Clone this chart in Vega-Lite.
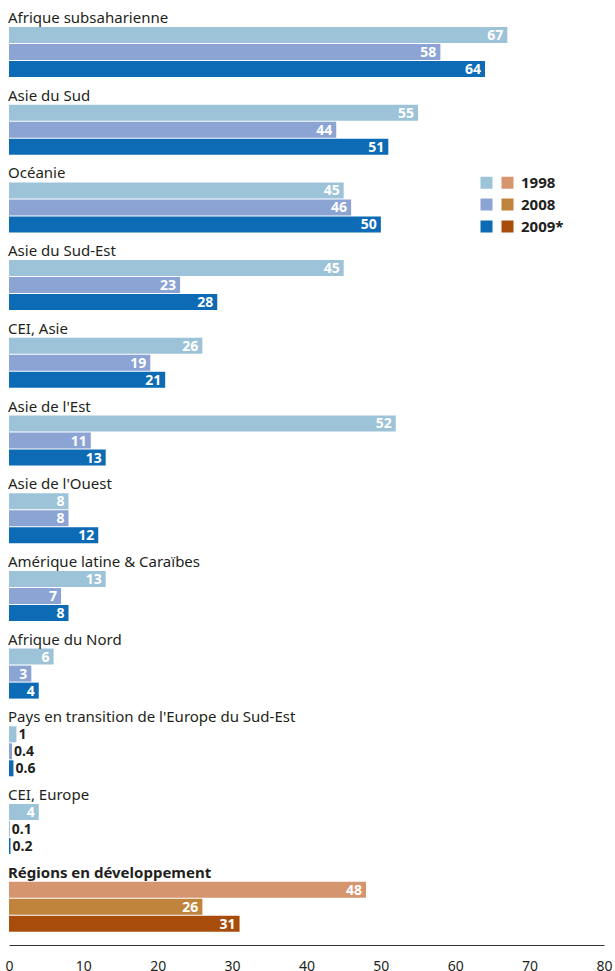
{
  "$schema": "https://vega.github.io/schema/vega-lite/v6.json",
  "padding": {"top": 10, "left": 4, "right": 0, "bottom": 0},
  "bounds": "flush",
  "data": {
    "values": [
      {"region": "Afrique subsaharienne", "year": "1998", "value": 67, "series": "R 1998"},
      {"region": "Afrique subsaharienne", "year": "2008", "value": 58, "series": "R 2008"},
      {"region": "Afrique subsaharienne", "year": "2009*", "value": 64, "series": "R 2009*"},
      {"region": "Asie du Sud", "year": "1998", "value": 55, "series": "R 1998"},
      {"region": "Asie du Sud", "year": "2008", "value": 44, "series": "R 2008"},
      {"region": "Asie du Sud", "year": "2009*", "value": 51, "series": "R 2009*"},
      {"region": "Océanie", "year": "1998", "value": 45, "series": "R 1998"},
      {"region": "Océanie", "year": "2008", "value": 46, "series": "R 2008"},
      {"region": "Océanie", "year": "2009*", "value": 50, "series": "R 2009*"},
      {"region": "Asie du Sud-Est", "year": "1998", "value": 45, "series": "R 1998"},
      {"region": "Asie du Sud-Est", "year": "2008", "value": 23, "series": "R 2008"},
      {"region": "Asie du Sud-Est", "year": "2009*", "value": 28, "series": "R 2009*"},
      {"region": "CEI, Asie", "year": "1998", "value": 26, "series": "R 1998"},
      {"region": "CEI, Asie", "year": "2008", "value": 19, "series": "R 2008"},
      {"region": "CEI, Asie", "year": "2009*", "value": 21, "series": "R 2009*"},
      {"region": "Asie de l'Est", "year": "1998", "value": 52, "series": "R 1998"},
      {"region": "Asie de l'Est", "year": "2008", "value": 11, "series": "R 2008"},
      {"region": "Asie de l'Est", "year": "2009*", "value": 13, "series": "R 2009*"},
      {"region": "Asie de l'Ouest", "year": "1998", "value": 8, "series": "R 1998"},
      {"region": "Asie de l'Ouest", "year": "2008", "value": 8, "series": "R 2008"},
      {"region": "Asie de l'Ouest", "year": "2009*", "value": 12, "series": "R 2009*"},
      {"region": "Amérique latine & Caraïbes", "year": "1998", "value": 13, "series": "R 1998"},
      {"region": "Amérique latine & Caraïbes", "year": "2008", "value": 7, "series": "R 2008"},
      {"region": "Amérique latine & Caraïbes", "year": "2009*", "value": 8, "series": "R 2009*"},
      {"region": "Afrique du Nord", "year": "1998", "value": 6, "series": "R 1998"},
      {"region": "Afrique du Nord", "year": "2008", "value": 3, "series": "R 2008"},
      {"region": "Afrique du Nord", "year": "2009*", "value": 4, "series": "R 2009*"},
      {"region": "Pays en transition de l'Europe du Sud-Est", "year": "1998", "value": 1, "series": "R 1998"},
      {"region": "Pays en transition de l'Europe du Sud-Est", "year": "2008", "value": 0.4, "series": "R 2008"},
      {"region": "Pays en transition de l'Europe du Sud-Est", "year": "2009*", "value": 0.6, "series": "R 2009*"},
      {"region": "CEI, Europe", "year": "1998", "value": 4, "series": "R 1998"},
      {"region": "CEI, Europe", "year": "2008", "value": 0.1, "series": "R 2008"},
      {"region": "CEI, Europe", "year": "2009*", "value": 0.2, "series": "R 2009*"},
      {"region": "Régions en développement", "year": "1998", "value": 48, "series": "T 1998"},
      {"region": "Régions en développement", "year": "2008", "value": 26, "series": "T 2008"},
      {"region": "Régions en développement", "year": "2009*", "value": 31, "series": "T 2009*"}
    ]
  },
  "facet": {
    "row": {
      "field": "region",
      "type": "nominal",
      "sort": ["Afrique subsaharienne", "Asie du Sud", "Océanie", "Asie du Sud-Est", "CEI, Asie", "Asie de l'Est", "Asie de l'Ouest", "Amérique latine & Caraïbes", "Afrique du Nord", "Pays en transition de l'Europe du Sud-Est", "CEI, Europe", "Régions en développement"],
      "header": {"labels": false, "title": null},
      "title": null
    }
  },
  "spacing": 27.7,
  "spec": {
    "width": 595,
    "height": 50,
    "encoding": {
      "y": {"field": "year", "type": "nominal", "axis": null, "sort": ["1998", "2008", "2009*"], "scale": {"paddingInner": 0.06, "paddingOuter": 0}}
    },
    "layer": [
      {
        "mark": {"type": "bar"},
        "encoding": {
          "x": {
            "field": "value", "type": "quantitative",
            "scale": {"domain": [0, 80], "nice": false},
            "axis": {"title": null, "values": [0, 10, 20, 30, 40, 50, 60, 70, 80], "ticks": false, "grid": false, "offset": 13, "domainColor": "#333333", "domainWidth": 1, "labelFontSize": 14, "labelColor": "#231f20", "labelPadding": 14, "labelFlush": false, "labelFont": "Noto Sans"}
          },
          "color": {
            "field": "series", "type": "nominal",
            "scale": {
              "domain": ["R 1998", "R 2008", "R 2009*", "T 1998", "T 2008", "T 2009*"],
              "range": ["#9dc3d9", "#8ba4d4", "#0c6bb4", "#d4956f", "#c0833c", "#a84c0c"]
            },
            "legend": {
              "orient": "none", "legendX": 470, "legendY": 148, "columns": 2,
              "title": null, "padding": 0,
              "symbolType": "square", "symbolSize": 144, "symbolStrokeWidth": 0, "symbolOpacity": 1,
              "labelFontSize": 15, "labelFontWeight": "bold", "labelColor": "#231f20", "labelFont": "Noto Sans",
              "labelOffset": 6, "columnPadding": 0, "rowPadding": 6,
              "labelExpr": "slice(datum.label, 0, 1) == 'T' ? slice(datum.label, 2) : ''"
            }
          }
        }
      },
      {
        "transform": [{"filter": "datum.value >= 2"}],
        "mark": {"type": "text", "align": "right", "baseline": "middle", "dx": -4, "dy": 1, "fontSize": 14, "fontWeight": "bold", "color": "#ffffff", "font": "Noto Sans"},
        "encoding": {
          "x": {"field": "value", "type": "quantitative"},
          "text": {"field": "value", "type": "quantitative"}
        }
      },
      {
        "transform": [{"filter": "datum.value < 2"}],
        "mark": {"type": "text", "align": "left", "baseline": "middle", "dx": 2, "dy": 1, "fontSize": 14, "fontWeight": "bold", "color": "#231f20", "font": "Noto Sans"},
        "encoding": {
          "x": {"field": "value", "type": "quantitative"},
          "text": {"field": "value", "type": "quantitative"}
        }
      },
      {
        "transform": [{"filter": "datum.year == '1998'"}],
        "mark": {"type": "text", "align": "left", "baseline": "alphabetic", "dx": -1, "dy": -4, "fontSize": 15, "color": "#231f20", "font": "Noto Sans",
          "fontWeight": {"expr": "datum.region == 'Régions en développement' ? 'bold' : 'normal'"}},
        "encoding": {
          "x": {"datum": 0},
          "y": {"field": "year", "type": "nominal", "bandPosition": 0},
          "text": {"field": "region", "type": "nominal"}
        }
      }
    ]
  },
  "config": {"view": {"stroke": null}, "font": "Noto Sans"}
}
